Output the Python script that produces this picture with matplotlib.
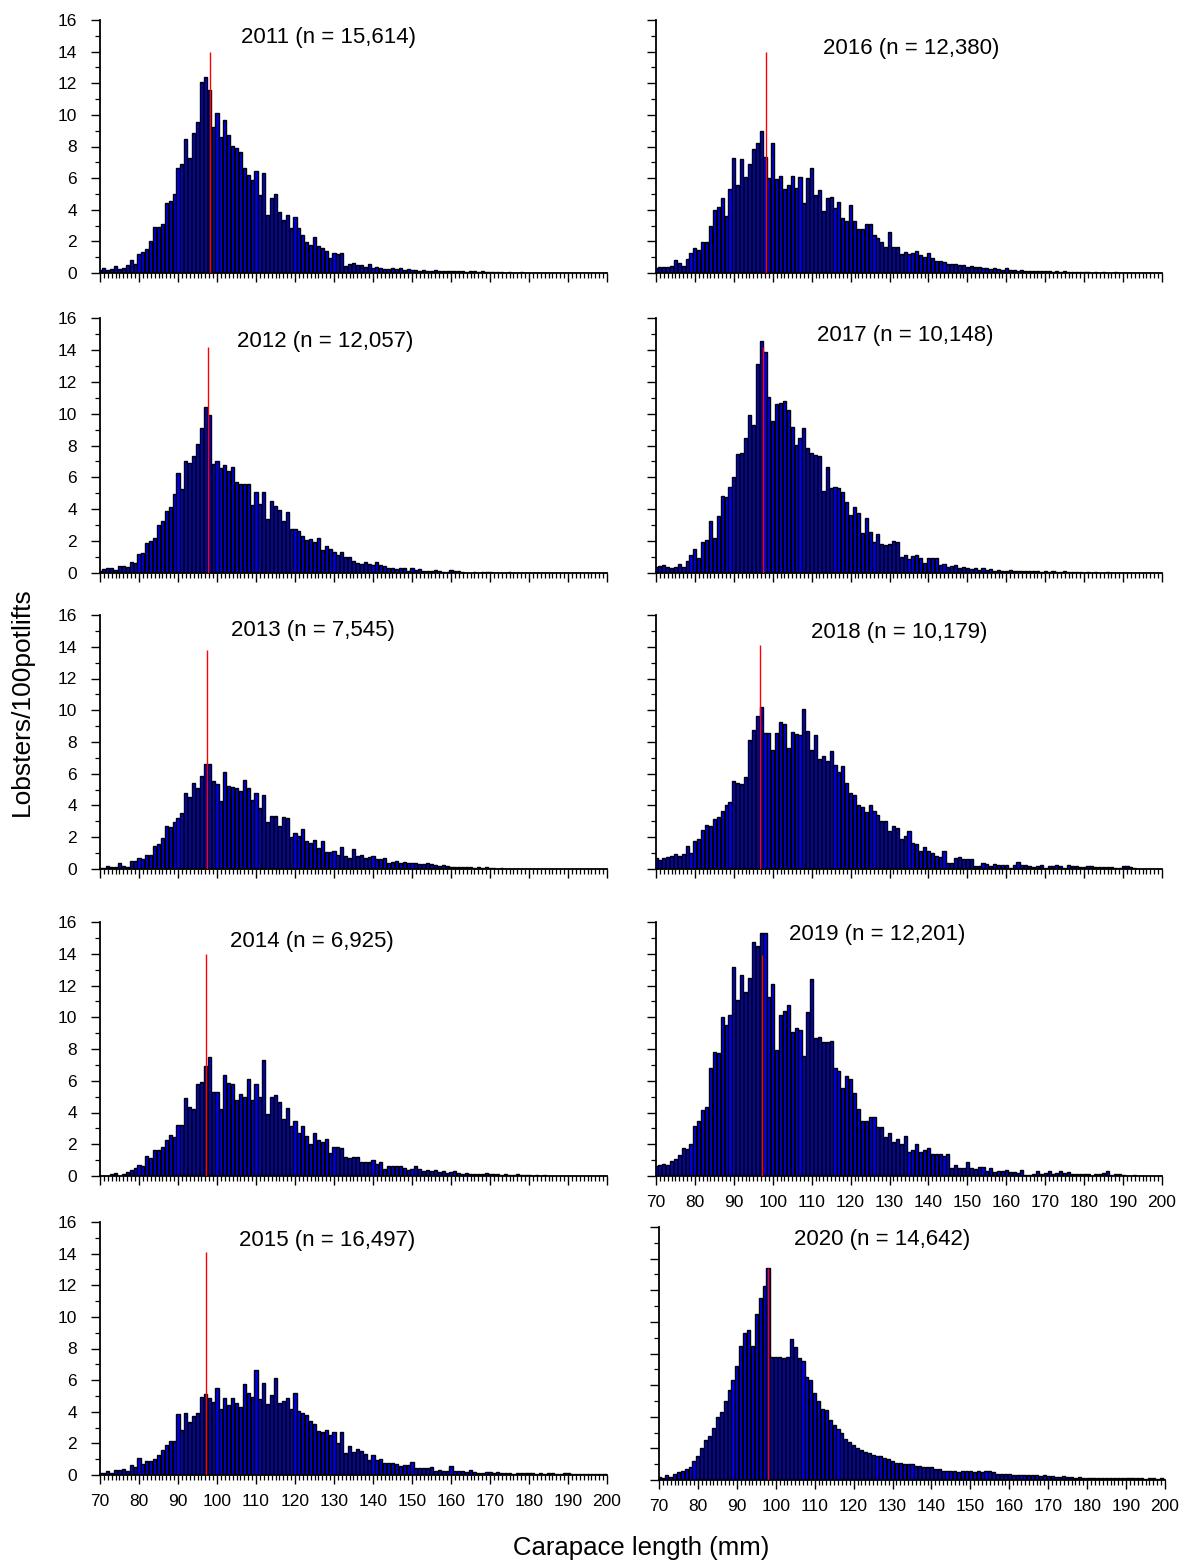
import numpy as np
import matplotlib.pyplot as plt
from matplotlib.ticker import MultipleLocator

plt.rcParams['font.family'] = ['Liberation Sans', 'DejaVu Sans']

# lobsters per 100 potlifts in 1 mm carapace length classes, first class = 70 mm
cpue_2011 = [0.2, 0.3, 0.17, 0.25, 0.47, 0.25, 0.3, 0.5, 0.8, 0.6,
             1.2, 1.33, 1.5, 2.0, 2.9, 2.9, 3.1, 4.4, 4.55, 5.0,
             6.65, 6.9, 8.45, 7.27, 8.86, 9.55, 12.1, 12.4, 11.6, 9.26,
             10.1, 8.6, 9.7, 8.7, 8.03, 7.88, 7.65, 6.65, 6.17, 5.87,
             6.44, 4.92, 6.33, 3.69, 4.77, 4.98, 3.86, 3.35, 3.69, 2.82,
             3.54, 2.86, 2.42, 1.93, 1.78, 2.29, 1.69, 1.57, 1.38, 0.95,
             1.29, 1.21, 1.27, 0.47, 0.57, 0.66, 0.53, 0.53, 0.4, 0.59,
             0.3, 0.4, 0.3, 0.23, 0.25, 0.3, 0.25, 0.3, 0.2, 0.25,
             0.2, 0.22, 0.15, 0.2, 0.15, 0.15, 0.2, 0.15, 0.1, 0.15,
             0.15, 0.1, 0.1, 0.12, 0.05, 0.1, 0.1, 0.05, 0.1, 0.05,
             0.08, 0.05, 0.05, 0.05, 0.03, 0.05, 0.03, 0.03, 0.05, 0.03,
             0.03, 0.03, 0.02, 0.03, 0.02, 0.02, 0.02, 0.0, 0.02, 0.0,
             0.02, 0.0, 0.0, 0.0, 0.0, 0.0, 0.0, 0.0, 0.0, 0.0, 0.0]
cpue_2012 = [0.15, 0.23, 0.32, 0.34, 0.17, 0.42, 0.42, 0.38, 0.72, 0.61,
             1.18, 1.27, 1.86, 2.03, 2.2, 3.0, 3.27, 3.92, 4.16, 4.98,
             6.3, 5.3, 7.0, 6.88, 7.32, 8.08, 9.09, 10.4, 9.9, 6.81,
             7.0, 6.56, 6.75, 6.4, 6.67, 5.68, 5.57, 5.57, 5.61, 4.28,
             5.08, 4.32, 5.06, 3.4, 4.51, 4.18, 3.95, 3.25, 3.82, 2.74,
             2.78, 2.66, 2.32, 2.07, 2.11, 1.94, 2.17, 1.46, 1.71, 1.48,
             1.31, 1.12, 1.33, 0.99, 0.99, 0.74, 0.63, 0.57, 0.72, 0.55,
             0.51, 0.68, 0.49, 0.46, 0.32, 0.34, 0.25, 0.3, 0.3, 0.15,
             0.34, 0.17, 0.23, 0.13, 0.15, 0.13, 0.17, 0.15, 0.04, 0.04,
             0.19, 0.15, 0.13, 0.04, 0.0, 0.0, 0.06, 0.0, 0.06, 0.06,
             0.06, 0.0, 0.0, 0.0, 0.0, 0.06, 0.0, 0.0, 0.0, 0.0,
             0.0, 0.0, 0.0, 0.0, 0.0, 0.0, 0.0, 0.0, 0.0, 0.0,
             0.0, 0.0, 0.0, 0.0, 0.0, 0.0, 0.0, 0.0, 0.0, 0.0, 0.0]
cpue_2013 = [0.05, 0.05, 0.17, 0.1, 0.1, 0.36, 0.2, 0.1, 0.5, 0.5,
             0.7, 0.6, 0.88, 0.88, 1.45, 1.58, 1.95, 2.7, 2.65, 2.98,
             3.24, 3.53, 4.79, 4.56, 5.44, 5.1, 5.88, 6.6, 6.6, 5.55,
             5.36, 4.31, 6.09, 5.23, 5.15, 5.1, 4.94, 5.61, 5.1, 4.35,
             4.81, 3.84, 4.68, 2.96, 3.34, 3.34, 2.73, 3.3, 3.24, 2.0,
             2.25, 2.1, 2.5, 1.79, 1.62, 1.81, 1.32, 1.79, 1.09, 1.05,
             1.16, 0.88, 1.39, 0.84, 0.7, 1.26, 0.84, 0.9, 0.7, 0.78,
             0.84, 0.63, 0.61, 0.67, 0.4, 0.45, 0.5, 0.4, 0.45, 0.4,
             0.35, 0.35, 0.3, 0.3, 0.35, 0.3, 0.25, 0.2, 0.25, 0.2,
             0.15, 0.15, 0.1, 0.15, 0.1, 0.1, 0.05, 0.1, 0.05, 0.1,
             0.05, 0.05, 0.0, 0.05, 0.0, 0.0, 0.0, 0.0, 0.0, 0.0,
             0.0, 0.0, 0.0, 0.0, 0.0, 0.0, 0.0, 0.0, 0.0, 0.0,
             0.0, 0.0, 0.0, 0.0, 0.0, 0.0, 0.0, 0.0, 0.0, 0.0, 0.0]
cpue_2014 = [0.0, 0.0, 0.0, 0.13, 0.17, 0.0, 0.1, 0.27, 0.4, 0.5,
             0.7, 0.65, 1.29, 1.12, 1.65, 1.65, 1.81, 2.28, 2.6, 2.45,
             3.23, 3.23, 4.92, 4.37, 4.2, 5.82, 5.93, 6.94, 7.49, 5.32,
             5.32, 4.24, 6.39, 5.86, 5.82, 4.77, 5.15, 4.98, 6.08, 4.77,
             5.78, 4.98, 7.28, 3.92, 4.98, 5.08, 4.64, 3.57, 4.28, 3.14,
             3.46, 2.72, 3.14, 2.55, 2.03, 2.72, 2.24, 2.13, 2.34, 1.46,
             1.81, 1.81, 1.77, 1.22, 1.12, 1.18, 1.18, 0.89, 0.89, 0.89,
             1.03, 0.74, 0.89, 0.44, 0.65, 0.6, 0.65, 0.65, 0.5, 0.4,
             0.45, 0.6, 0.45, 0.3, 0.35, 0.3, 0.4, 0.25, 0.3, 0.2,
             0.25, 0.3, 0.2, 0.15, 0.2, 0.15, 0.1, 0.15, 0.1, 0.2,
             0.1, 0.15, 0.1, 0.05, 0.1, 0.05, 0.05, 0.1, 0.05, 0.05,
             0.05, 0.0, 0.05, 0.0, 0.05, 0.0, 0.0, 0.0, 0.0, 0.0,
             0.0, 0.0, 0.0, 0.0, 0.0, 0.0, 0.0, 0.0, 0.0, 0.0, 0.0]
cpue_2015 = [0.15, 0.13, 0.23, 0.15, 0.32, 0.3, 0.36, 0.25, 0.61, 0.49,
             1.08, 0.68, 0.87, 0.89, 0.99, 1.24, 1.58, 1.92, 2.15, 2.15,
             3.84, 2.85, 3.92, 3.38, 3.76, 3.9, 4.94, 5.13, 4.9, 4.64,
             5.49, 4.18, 4.87, 4.41, 4.9, 4.56, 4.32, 5.74, 5.19, 4.94,
             6.65, 4.79, 5.82, 4.51, 5.04, 6.14, 4.56, 4.68, 4.85, 4.16,
             5.17, 4.03, 3.92, 3.78, 3.42, 3.21, 2.78, 2.72, 2.83, 2.53,
             2.7, 2.03, 2.7, 1.39, 1.81, 1.43, 1.62, 1.54, 1.31, 0.95,
             1.24, 0.93, 0.99, 0.78, 0.78, 0.78, 0.68, 0.59, 0.61, 0.63,
             0.8, 0.42, 0.44, 0.44, 0.46, 0.53, 0.27, 0.34, 0.25, 0.25,
             0.55, 0.25, 0.25, 0.25, 0.21, 0.3, 0.17, 0.13, 0.15, 0.17,
             0.17, 0.15, 0.19, 0.13, 0.13, 0.13, 0.08, 0.13, 0.15, 0.13,
             0.13, 0.1, 0.08, 0.13, 0.08, 0.13, 0.13, 0.08, 0.08, 0.13,
             0.13, 0.08, 0.08, 0.08, 0.08, 0.08, 0.08, 0.08, 0.08, 0.06, 0.06]
cpue_2016 = [0.34, 0.36, 0.38, 0.36, 0.47, 0.85, 0.61, 0.47, 0.87, 1.25,
             1.61, 1.44, 1.95, 1.95, 2.97, 4.0, 4.17, 4.72, 3.6, 5.34,
             7.27, 5.57, 7.23, 6.08, 6.89, 7.86, 8.24, 8.96, 7.33, 6.02,
             8.2, 5.93, 6.12, 5.32, 5.57, 6.12, 5.36, 6.06, 4.43, 6.02,
             6.67, 4.92, 5.25, 3.9, 4.75, 4.79, 4.13, 4.51, 3.47, 3.26,
             4.32, 3.3, 2.78, 2.78, 3.07, 3.07, 2.42, 2.2, 1.93, 1.67,
             2.61, 1.67, 1.67, 1.19, 1.31, 1.19, 1.29, 1.4, 1.12, 1.04,
             1.27, 0.93, 0.76, 0.76, 0.7, 0.6, 0.55, 0.6, 0.5, 0.5,
             0.4, 0.45, 0.35, 0.4, 0.3, 0.3, 0.25, 0.3, 0.25, 0.2,
             0.3, 0.2, 0.2, 0.15, 0.2, 0.15, 0.1, 0.15, 0.1, 0.1,
             0.1, 0.1, 0.05, 0.1, 0.05, 0.1, 0.05, 0.05, 0.05, 0.05,
             0.05, 0.05, 0.0, 0.05, 0.0, 0.05, 0.0, 0.0, 0.05, 0.0,
             0.0, 0.0, 0.0, 0.0, 0.0, 0.0, 0.0, 0.0, 0.0, 0.0, 0.0]
cpue_2017 = [0.38, 0.42, 0.53, 0.4, 0.29, 0.4, 0.59, 0.38, 0.74, 1.14,
             1.52, 0.91, 1.94, 2.04, 3.24, 2.21, 3.58, 4.84, 4.74, 5.41,
             6.04, 7.47, 7.54, 8.48, 9.94, 9.31, 13.12, 14.57, 13.87, 11.03,
             9.54, 10.63, 10.67, 10.8, 10.25, 9.16, 8.02, 8.46, 9.12, 7.83,
             7.54, 7.43, 7.31, 5.12, 6.67, 5.33, 5.37, 5.31, 5.09, 4.44,
             3.66, 4.11, 3.77, 2.53, 3.43, 2.57, 1.96, 2.42, 1.85, 1.73,
             1.79, 2.02, 1.96, 1.01, 1.16, 0.88, 1.09, 1.16, 0.97, 0.65,
             0.91, 0.93, 0.93, 0.53, 0.55, 0.4, 0.45, 0.5, 0.3, 0.35,
             0.3, 0.25, 0.3, 0.2, 0.3, 0.2, 0.25, 0.15, 0.2, 0.15,
             0.15, 0.2, 0.1, 0.15, 0.1, 0.1, 0.15, 0.1, 0.1, 0.05,
             0.1, 0.05, 0.1, 0.05, 0.05, 0.1, 0.05, 0.05, 0.05, 0.05,
             0.0, 0.05, 0.0, 0.05, 0.0, 0.0, 0.05, 0.0, 0.0, 0.0,
             0.0, 0.0, 0.0, 0.0, 0.0, 0.0, 0.0, 0.0, 0.0, 0.0, 0.0]
cpue_2018 = [0.7, 0.57, 0.72, 0.74, 0.84, 0.95, 0.82, 0.95, 1.46, 1.03,
             1.79, 1.92, 2.43, 2.78, 2.7, 3.16, 3.29, 3.67, 4.05, 4.24,
             5.55, 5.4, 5.38, 5.8, 8.12, 8.76, 9.64, 10.21, 8.54, 8.59,
             7.49, 8.59, 9.24, 9.16, 7.62, 8.65, 8.48, 8.42, 10.1, 8.69,
             7.51, 8.44, 6.94, 7.13, 6.79, 7.45, 6.54, 6.14, 6.5, 5.44,
             4.79, 4.64, 4.05, 3.92, 3.57, 4.05, 3.65, 3.38, 3.0, 3.0,
             2.38, 2.68, 2.59, 1.92, 2.05, 2.41, 1.62, 1.56, 1.16, 1.39,
             1.12, 1.01, 0.8, 0.74, 1.12, 0.38, 0.38, 0.7, 0.76, 0.63,
             0.63, 0.63, 0.21, 0.21, 0.4, 0.34, 0.19, 0.34, 0.27, 0.25,
             0.25, 0.04, 0.25, 0.44, 0.25, 0.23, 0.19, 0.13, 0.19, 0.25,
             0.06, 0.19, 0.19, 0.23, 0.17, 0.06, 0.23, 0.19, 0.19, 0.13,
             0.1, 0.19, 0.19, 0.1, 0.1, 0.1, 0.1, 0.1, 0.04, 0.08,
             0.19, 0.19, 0.13, 0.04, 0.0, 0.0, 0.0, 0.0, 0.0, 0.0, 0.0]
cpue_2019 = [0.65, 0.67, 0.74, 0.67, 0.93, 1.07, 1.35, 1.75, 1.68, 2.02,
             3.16, 3.45, 4.13, 4.36, 6.82, 7.83, 7.73, 10.0, 9.49, 10.17,
             13.16, 11.09, 12.67, 11.62, 12.5, 14.72, 14.46, 15.3, 15.3, 11.3,
             12.1, 7.92, 10.17, 10.4, 10.78, 9.05, 9.3, 9.18, 7.54, 10.34,
             12.42, 8.67, 8.78, 8.44, 8.46, 8.5, 6.78, 6.61, 5.54, 6.32,
             6.08, 5.24, 4.25, 3.47, 3.49, 3.7, 3.73, 3.09, 3.09, 2.46,
             2.74, 2.15, 2.36, 2.04, 2.51, 1.49, 1.66, 2.02, 1.49, 1.66,
             1.79, 1.39, 1.41, 1.41, 1.28, 1.39, 0.53, 0.72, 0.48, 0.53,
             0.86, 0.53, 0.42, 0.59, 0.59, 0.32, 0.53, 0.27, 0.32, 0.32,
             0.38, 0.23, 0.27, 0.21, 0.36, 0.08, 0.08, 0.13, 0.29, 0.15,
             0.21, 0.34, 0.11, 0.21, 0.34, 0.19, 0.23, 0.13, 0.15, 0.11,
             0.13, 0.11, 0.02, 0.15, 0.15, 0.21, 0.29, 0.08, 0.13, 0.15,
             0.08, 0.0, 0.0, 0.06, 0.0, 0.0, 0.0, 0.0, 0.0, 0.0, 0.0]
cpue_2020 = [0.2, 0.1, 0.3, 0.2, 0.4, 0.5, 0.6, 0.7, 0.8, 1.2,
             1.5, 2.0, 2.5, 2.8, 3.3, 4.0, 4.3, 5.0, 5.7, 6.3,
             7.2, 8.5, 9.3, 9.5, 8.5, 10.5, 11.5, 12.3, 13.4, 7.8,
             7.8, 7.8, 7.7, 7.8, 8.9, 8.4, 7.7, 7.5, 6.5, 6.3,
             5.5, 5.0, 4.5, 4.4, 3.8, 3.5, 3.2, 3.0, 2.6, 2.4,
             2.2, 2.0, 1.9, 1.8, 1.7, 1.6, 1.5, 1.5, 1.4, 1.3,
             1.2, 1.1, 1.1, 1.0, 1.0, 1.0, 0.9, 0.9, 0.8, 0.8,
             0.8, 0.7, 0.7, 0.6, 0.6, 0.6, 0.6, 0.5, 0.6, 0.6,
             0.6, 0.5, 0.6, 0.5, 0.6, 0.6, 0.5, 0.4, 0.4, 0.4,
             0.4, 0.3, 0.3, 0.3, 0.3, 0.3, 0.3, 0.3, 0.25, 0.3,
             0.25, 0.25, 0.2, 0.2, 0.25, 0.2, 0.2, 0.15, 0.2, 0.15,
             0.15, 0.15, 0.1, 0.15, 0.15, 0.1, 0.15, 0.1, 0.1, 0.15,
             0.1, 0.1, 0.1, 0.1, 0.1, 0.05, 0.1, 0.1, 0.05, 0.1, 0.05]

years = [2011, 2012, 2013, 2014, 2015, 2016, 2017, 2018, 2019, 2020]
sample_n = ['15,614', '12,057', '7,545', '6,925', '16,497',
            '12,380', '10,148', '10,179', '12,201', '14,642']
series = [cpue_2011, cpue_2012, cpue_2013, cpue_2014, cpue_2015,
          cpue_2016, cpue_2017, cpue_2018, cpue_2019, cpue_2020]
# red marker line: carapace length (mm) and height
marker_cl = [98.2, 97.6, 97.4, 97.1, 97.1, 98.3, 97.6, 96.8, 97.3, 98.0]
marker_top = [14.0, 14.2, 13.8, 14.0, 14.1, 14.0, 14.2, 14.1, 13.9, 13.4]

# title anchor (data coords) for each panel
title_xy = [(128.5, 14.9), (127.7, 14.5), (124.6, 15.0), (124.4, 14.8), (128.2, 14.8),
            (135.6, 14.2), (134.1, 14.9), (132.6, 14.9), (126.9, 15.2), (127.4, 15.2)]

W, H = 1185, 1566
fig = plt.figure(figsize=(W / 100, H / 100), dpi=100)

# panel boxes in pixels: (x0, x1, ytop, ybottom)
left_x = (100, 607)
right_x = (656, 1162)
row_y = [(20, 273), (318, 573), (615, 869), (922, 1176), (1222, 1475)]
boxes = [left_x + r for r in row_y] + [right_x + r for r in row_y[:4]] + [(659, 1165, 1227, 1480)]

for i, (vals, yr, n) in enumerate(zip(series, years, sample_n)):
    x0, x1, yt, yb = boxes[i]
    ax = fig.add_axes([x0 / W, 1 - yb / H, (x1 - x0) / W, (yb - yt) / H])
    cl = np.arange(70, 70 + len(vals))
    ax.bar(cl, vals, width=0.8, color='#0000ee', edgecolor='black', linewidth=1.0)
    ax.vlines(marker_cl[i], 0, marker_top[i], color='red', linewidth=1.0, zorder=3)
    ax.set_xlim(70, 200)
    ax.set_ylim(0, 16)
    ax.spines[['top', 'right']].set_visible(False)
    for s in ('left', 'bottom'):
        ax.spines[s].set_linewidth(1.3)
    ax.xaxis.set_major_locator(MultipleLocator(10))
    ax.xaxis.set_minor_locator(MultipleLocator(1))
    ax.yaxis.set_major_locator(MultipleLocator(2))
    ax.yaxis.set_minor_locator(MultipleLocator(1))
    ax.tick_params(which='major', direction='out', length=6.5, width=1.0, labelsize=12.5)
    ax.tick_params(which='minor', direction='out', length=3.6, width=0.9)
    ax.tick_params(axis='y', which='major', pad=10)
    ax.tick_params(axis='x', which='major', pad=7)
    left_col = i < 5
    show_x = (i == 4) or (i >= 8)
    if not left_col:
        ax.tick_params(axis='y', labelleft=False)
    if not show_x:
        ax.tick_params(axis='x', labelbottom=False)
    tx, ty = title_xy[i]
    ax.text(tx, ty, f'{yr} (n = {n})', ha='center', va='center', fontsize=16)

fig.text(22 / W, 1 - 702 / H, 'Lobsters/100potlifts', rotation=90,
         ha='center', va='center', fontsize=19)
fig.text(641 / W, 1 - 1548 / H, 'Carapace length (mm)', ha='center', va='center', fontsize=18.5)

fig.savefig('out.png', dpi=100)
